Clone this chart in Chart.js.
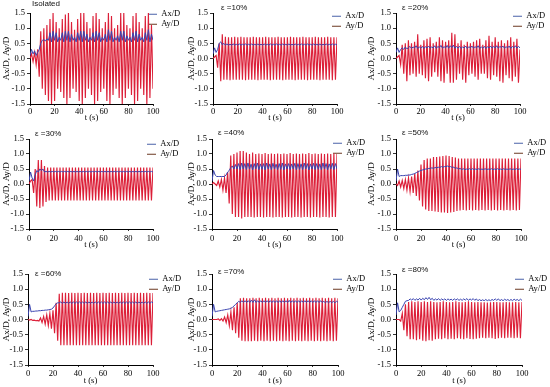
<!DOCTYPE html>
<html><head><meta charset="utf-8">
<script src="https://cdn.jsdelivr.net/npm/chart.js@4/dist/chart.umd.min.js"></script>
<style>
body{margin:0;width:550px;height:387px;background:#fff;position:relative;overflow:hidden}
canvas{position:absolute}
</style></head><body>
<script>
// time samples (s)
const t = [0,1.25,2.5,3.75,5,6.25,7.5,8.75,
10,11.25,12.5,13.75,15,16.25,17.5,18.75,
20,21.25,22.5,23.75,25,26.25,27.5,28.75,
30,31.25,32.5,33.75,35,36.25,37.5,38.75,
40,41.25,42.5,43.75,45,46.25,47.5,48.75,
50,51.25,52.5,53.75,55,56.25,57.5,58.75,
60,61.25,62.5,63.75,65,66.25,67.5,68.75,
70,71.25,72.5,73.75,75,76.25,77.5,78.75,
80,81.25,82.5,83.75,85,86.25,87.5,88.75,
90,91.25,92.5,93.75,95,96.25,97.5,98.75,
100];
const xTicks = [0,20,40,60,80,100];
const yTicks = [-1.5,-1.0,-0.5,0.0,0.5,1.0,1.5];
const seriesNames = ['Ax/D','Ay/D'];
const panelTitles = ['Isolated','ε =10%','ε =20%','ε =30%','ε =40%','ε =50%','ε =60%','ε =70%','ε =80%'];

// Isolated
const isoAx = [0.1,0.3,0.15,0.25,0.1,0.2,0.3,0.5,
0.6,0.62,0.58,0.65,0.6,0.85,0.55,0.9,
0.6,0.85,0.55,0.7,0.6,0.85,0.55,0.9,
0.6,0.9,0.55,0.8,0.6,0.7,0.55,0.85,
0.6,0.9,0.55,0.9,0.6,0.8,0.55,0.7,
0.6,0.85,0.55,0.9,0.6,0.85,0.55,0.7,
0.6,0.8,0.55,0.95,0.6,0.9,0.55,0.7,
0.6,0.75,0.55,0.9,0.6,0.9,0.55,0.75,
0.6,0.7,0.55,0.85,0.6,0.9,0.55,0.8,
0.6,0.7,0.55,0.85,0.6,0.95,0.55,0.8,
0.6];
const isoAy = [0,0.15,-0.1,0.2,-0.2,0.3,-0.6,0.9,
-1.0,1.0,-1.2,1.1,-1.4,1.3,-1.5,1.5,
-1.4,1.2,-1.0,1.0,-1.1,1.3,-1.3,1.45,
-1.5,1.5,-1.3,1.2,-1.0,0.95,-1.1,1.3,
-1.4,1.5,-1.5,1.5,-1.3,1.2,-1.0,1.0,
-1.2,1.4,-1.5,1.5,-1.4,1.3,-1.1,1.0,
-1.0,1.2,-1.4,1.5,-1.5,1.4,-1.2,1.0,
-1.0,1.1,-1.3,1.5,-1.5,1.5,-1.3,1.1,
-1.0,1.0,-1.2,1.4,-1.5,1.5,-1.4,1.2,
-1.0,1.0,-1.2,1.4,-1.5,1.5,-1.3,1.1,
-1.0];
// ε = 10%
const e10Ax = [0.15,0.35,0.2,0.3,0.5,0.55,0.45,0.5,
0.44,0.48,0.44,0.47,0.44,0.48,0.44,0.47,
0.44,0.48,0.44,0.47,0.44,0.48,0.44,0.47,
0.44,0.48,0.44,0.47,0.44,0.48,0.44,0.47,
0.44,0.48,0.44,0.47,0.44,0.48,0.44,0.47,
0.44,0.48,0.44,0.47,0.44,0.48,0.44,0.47,
0.44,0.48,0.44,0.47,0.44,0.48,0.44,0.47,
0.44,0.48,0.44,0.47,0.44,0.48,0.44,0.47,
0.44,0.48,0.44,0.47,0.44,0.48,0.44,0.47,
0.44,0.48,0.44,0.47,0.44,0.48,0.44,0.47,
0.45];
const e10Ay = [0,0.05,0.1,-0.3,0.5,-0.75,0.8,-0.7,
0.72,-0.7,0.7,-0.72,0.7,-0.7,0.72,-0.7,
0.7,-0.7,0.72,-0.7,0.7,-0.72,0.7,-0.7,
0.7,-0.7,0.72,-0.7,0.7,-0.72,0.7,-0.7,
0.7,-0.7,0.72,-0.7,0.7,-0.72,0.7,-0.7,
0.7,-0.7,0.72,-0.7,0.7,-0.72,0.7,-0.7,
0.7,-0.7,0.72,-0.7,0.7,-0.72,0.7,-0.7,
0.7,-0.7,0.72,-0.7,0.7,-0.72,0.7,-0.7,
0.7,-0.7,0.72,-0.7,0.7,-0.72,0.7,-0.7,
0.7,-0.7,0.72,-0.7,0.7,-0.72,0.7,-0.7,
0.7];
// ε = 20%
const e20Ax = [0.2,0.35,0.2,0.3,0.35,0.3,0.38,0.32,
0.35,0.4,0.33,0.38,0.35,0.42,0.33,0.38,
0.34,0.4,0.33,0.39,0.35,0.41,0.34,0.38,
0.35,0.42,0.33,0.4,0.36,0.43,0.34,0.39,
0.35,0.43,0.34,0.42,0.36,0.44,0.34,0.4,
0.34,0.4,0.33,0.38,0.35,0.41,0.33,0.39,
0.35,0.41,0.34,0.39,0.35,0.42,0.33,0.38,
0.34,0.4,0.33,0.39,0.35,0.41,0.34,0.4,
0.35,0.42,0.34,0.4,0.36,0.41,0.34,0.39,
0.35,0.41,0.33,0.4,0.35,0.42,0.34,0.4,
0.35];
const e20Ay = [0,0.05,0.1,-0.2,0.45,-0.5,0.5,-0.75,
0.6,-0.55,0.5,-0.5,0.55,-0.6,0.8,-0.5,
0.45,-0.55,0.6,-0.65,0.65,-0.75,0.7,-0.6,
0.5,-0.45,0.55,-0.6,0.7,-0.75,0.6,-0.8,
0.55,-0.5,0.6,-0.8,0.85,-0.8,0.8,-0.7,
0.5,-0.5,0.6,-0.7,0.45,-0.8,0.55,-0.55,
0.5,-0.5,0.55,-0.6,0.6,-0.7,0.65,-0.5,
0.45,-0.5,0.6,-0.65,0.75,-0.7,0.55,-0.55,
0.7,-0.6,0.55,-0.75,0.6,-0.8,0.5,-0.55,
0.6,-0.65,0.7,-0.75,0.55,-0.6,0.65,-0.8,
0.3];
// ε = 30%
const e30Ax = [0.1,0.4,0.2,0.1,0.3,0.45,0.4,0.5,
0.45,0.5,0.4,0.42,0.4,0.42,0.4,0.42,
0.4,0.42,0.4,0.42,0.4,0.42,0.4,0.42,
0.4,0.42,0.4,0.42,0.4,0.42,0.4,0.42,
0.4,0.42,0.4,0.42,0.4,0.42,0.4,0.42,
0.4,0.42,0.4,0.42,0.4,0.42,0.4,0.42,
0.4,0.42,0.4,0.42,0.4,0.42,0.4,0.42,
0.4,0.42,0.4,0.42,0.4,0.42,0.4,0.42,
0.4,0.42,0.4,0.42,0.4,0.42,0.4,0.42,
0.4,0.42,0.4,0.42,0.4,0.42,0.4,0.42,
0.4];
const e30Ay = [0,0.1,0.15,-0.3,0.5,-0.75,0.8,-0.8,
0.8,-0.75,0.6,-0.6,0.55,-0.55,0.55,-0.55,
0.55,-0.55,0.55,-0.55,0.55,-0.55,0.55,-0.55,
0.55,-0.55,0.55,-0.55,0.55,-0.55,0.55,-0.55,
0.55,-0.55,0.55,-0.55,0.55,-0.55,0.55,-0.55,
0.55,-0.55,0.55,-0.55,0.55,-0.55,0.55,-0.55,
0.55,-0.55,0.55,-0.55,0.55,-0.55,0.55,-0.55,
0.55,-0.55,0.55,-0.55,0.55,-0.55,0.55,-0.55,
0.55,-0.55,0.55,-0.55,0.55,-0.55,0.55,-0.55,
0.55,-0.55,0.55,-0.55,0.55,-0.55,0.55,-0.55,
0.55];
// ε = 40%
const e40Ax = [0.1,0.45,0.3,0.25,0.25,0.25,0.25,0.25,
0.25,0.3,0.4,0.45,0.55,0.6,0.5,0.65,
0.5,0.68,0.48,0.7,0.5,0.68,0.48,0.7,
0.5,0.66,0.47,0.68,0.5,0.7,0.48,0.67,
0.49,0.68,0.47,0.7,0.5,0.67,0.48,0.69,
0.5,0.66,0.48,0.68,0.49,0.7,0.47,0.67,
0.5,0.68,0.48,0.67,0.5,0.69,0.47,0.68,
0.49,0.67,0.48,0.7,0.5,0.68,0.47,0.67,
0.5,0.69,0.48,0.68,0.49,0.67,0.48,0.7,
0.5,0.68,0.47,0.67,0.5,0.69,0.48,0.68,
0.5];
const e40Ay = [0,0.05,0,-0.05,0.1,-0.1,0.15,-0.2,
0.2,-0.3,0.4,-0.65,0.95,-1.0,1.0,-1.1,
1.05,-1.1,1.1,-1.15,1.1,-1.1,1.05,-1.1,
1.0,-1.1,1.05,-1.12,1.0,-1.1,1.02,-1.1,
1.0,-1.12,1.03,-1.1,1.0,-1.1,1.02,-1.12,
1.0,-1.1,1.02,-1.1,1.0,-1.12,1.02,-1.1,
1.0,-1.1,1.03,-1.12,1.0,-1.1,1.02,-1.1,
1.0,-1.12,1.02,-1.1,1.0,-1.1,1.03,-1.12,
1.0,-1.1,1.02,-1.1,1.0,-1.12,1.02,-1.1,
1.0,-1.1,1.02,-1.12,1.0,-1.1,1.02,-1.1,
1.0];
// ε = 50%
const e50Ax = [0.1,0.5,0.25,0.28,0.28,0.28,0.29,0.29,
0.3,0.3,0.32,0.33,0.35,0.38,0.4,0.43,
0.45,0.47,0.48,0.5,0.5,0.52,0.52,0.54,
0.52,0.55,0.54,0.56,0.55,0.58,0.56,0.58,
0.58,0.6,0.57,0.58,0.55,0.56,0.52,0.54,
0.5,0.52,0.48,0.51,0.48,0.5,0.48,0.51,
0.48,0.51,0.48,0.5,0.48,0.51,0.48,0.5,
0.48,0.51,0.48,0.5,0.48,0.51,0.48,0.5,
0.48,0.51,0.48,0.5,0.48,0.51,0.48,0.5,
0.48,0.51,0.48,0.5,0.48,0.51,0.48,0.5,
0.49];
const e50Ay = [0,-0.05,0.1,-0.1,0.12,-0.15,0.15,-0.2,
0.2,-0.25,0.25,-0.3,0.35,-0.4,0.45,-0.55,
0.65,-0.75,0.8,-0.85,0.85,-0.9,0.85,-0.9,
0.9,-0.92,0.9,-0.93,0.92,-0.95,0.93,-0.95,
0.95,-0.97,0.93,-0.95,0.9,-0.93,0.88,-0.9,
0.85,-0.88,0.85,-0.87,0.85,-0.88,0.85,-0.87,
0.85,-0.88,0.85,-0.87,0.85,-0.88,0.85,-0.87,
0.85,-0.88,0.85,-0.87,0.85,-0.88,0.85,-0.87,
0.85,-0.88,0.85,-0.87,0.85,-0.88,0.85,-0.87,
0.85,-0.88,0.85,-0.87,0.85,-0.88,0.85,-0.87,
0.85];
// ε = 60%
const e60Ax = [0.1,0.5,0.25,0.27,0.27,0.28,0.28,0.29,
0.29,0.3,0.3,0.31,0.31,0.32,0.33,0.34,
0.38,0.45,0.52,0.55,0.55,0.58,0.53,0.58,
0.53,0.58,0.53,0.58,0.53,0.58,0.53,0.58,
0.53,0.58,0.53,0.58,0.53,0.58,0.53,0.58,
0.53,0.58,0.53,0.58,0.53,0.58,0.53,0.58,
0.53,0.58,0.53,0.58,0.53,0.58,0.53,0.58,
0.53,0.58,0.53,0.58,0.53,0.58,0.53,0.58,
0.53,0.58,0.53,0.58,0.53,0.58,0.53,0.58,
0.53,0.58,0.53,0.58,0.53,0.58,0.53,0.58,
0.55];
const e60Ay = [0,-0.02,0,-0.03,-0.02,-0.04,-0.03,-0.05,
0.05,-0.1,0.1,-0.15,0.15,-0.2,0.2,-0.3,
0.3,-0.45,0.55,-0.7,0.85,-0.85,0.88,-0.85,
0.88,-0.85,0.87,-0.85,0.88,-0.85,0.87,-0.85,
0.88,-0.85,0.87,-0.85,0.88,-0.85,0.87,-0.85,
0.88,-0.85,0.87,-0.85,0.88,-0.85,0.87,-0.85,
0.88,-0.85,0.87,-0.85,0.88,-0.85,0.87,-0.85,
0.88,-0.85,0.87,-0.85,0.88,-0.85,0.87,-0.85,
0.88,-0.85,0.87,-0.85,0.88,-0.85,0.87,-0.85,
0.88,-0.85,0.87,-0.85,0.88,-0.85,0.87,-0.85,
0.87];
// ε = 70%
const e70Ax = [0.1,0.5,0.25,0.27,0.28,0.29,0.3,0.31,
0.32,0.33,0.34,0.35,0.37,0.4,0.45,0.5,
0.55,0.6,0.56,0.62,0.56,0.62,0.56,0.62,
0.56,0.64,0.56,0.65,0.56,0.62,0.56,0.62,
0.56,0.62,0.56,0.62,0.56,0.62,0.56,0.62,
0.56,0.62,0.56,0.62,0.56,0.62,0.56,0.62,
0.56,0.63,0.56,0.62,0.56,0.62,0.56,0.62,
0.56,0.62,0.56,0.62,0.56,0.62,0.56,0.62,
0.56,0.62,0.56,0.62,0.56,0.62,0.56,0.6,
0.55,0.6,0.55,0.6,0.55,0.6,0.55,0.6,
0.57];
const e70Ay = [0,0,0,0,0.02,-0.03,0.03,-0.05,
0.08,-0.1,0.15,-0.2,0.25,-0.35,0.4,-0.45,
0.55,-0.6,0.7,-0.7,0.72,-0.72,0.7,-0.72,
0.7,-0.72,0.72,-0.7,0.7,-0.72,0.72,-0.7,
0.7,-0.72,0.72,-0.7,0.7,-0.72,0.72,-0.7,
0.7,-0.72,0.72,-0.7,0.7,-0.72,0.72,-0.7,
0.7,-0.72,0.72,-0.7,0.7,-0.72,0.72,-0.7,
0.7,-0.72,0.72,-0.7,0.7,-0.72,0.72,-0.7,
0.7,-0.72,0.72,-0.7,0.7,-0.72,0.72,-0.7,
0.7,-0.72,0.72,-0.7,0.7,-0.72,0.72,-0.7,
0.7];
// ε = 80%
const e80Ax = [0.15,0.55,0.25,0.3,0.4,0.5,0.6,0.62,
0.63,0.68,0.64,0.69,0.63,0.68,0.64,0.7,
0.64,0.7,0.65,0.72,0.66,0.73,0.65,0.7,
0.63,0.68,0.64,0.69,0.63,0.68,0.64,0.68,
0.63,0.68,0.64,0.67,0.63,0.68,0.64,0.68,
0.63,0.67,0.63,0.68,0.64,0.69,0.63,0.68,
0.64,0.69,0.63,0.68,0.62,0.66,0.62,0.65,
0.62,0.66,0.62,0.65,0.62,0.66,0.63,0.68,
0.63,0.68,0.62,0.66,0.62,0.67,0.63,0.66,
0.62,0.66,0.62,0.67,0.63,0.66,0.62,0.67,
0.63];
const e80Ay = [0,0,0,-0.05,0.2,-0.35,0.5,-0.55,
0.58,-0.65,0.6,-0.65,0.58,-0.68,0.6,-0.65,
0.58,-0.7,0.6,-0.72,0.58,-0.68,0.6,-0.7,
0.58,-0.65,0.57,-0.63,0.58,-0.65,0.6,-0.62,
0.58,-0.65,0.57,-0.63,0.58,-0.65,0.6,-0.62,
0.58,-0.63,0.57,-0.65,0.58,-0.62,0.6,-0.64,
0.58,-0.65,0.57,-0.63,0.58,-0.62,0.57,-0.6,
0.57,-0.62,0.56,-0.6,0.57,-0.62,0.58,-0.64,
0.58,-0.62,0.57,-0.6,0.57,-0.62,0.58,-0.6,
0.57,-0.6,0.57,-0.62,0.58,-0.6,0.57,-0.62,
0.58];

const axSeries = [isoAx,e10Ax,e20Ax,e30Ax,e40Ax,e50Ax,e60Ax,e70Ax,e80Ax];
const aySeries = [isoAy,e10Ay,e20Ay,e30Ay,e40Ay,e50Ay,e60Ay,e70Ay,e80Ay];

// ---------- layout / styling ----------
const AX_COLOR = '#3a44b0';
const AY_COLOR = '#dc1f38';
const LEG_COLORS = ['#4a62a8','#6b3822'];
const SERIF = "'Liberation Serif','Times New Roman',serif";
const SANS = "'Liberation Sans',Arial,sans-serif";

const cols = [{x:0,w:185},{x:185,w:180},{x:365,w:185}];
const rows = [
  {y:0,h:127,T:13,B:104,tickPad:1,titlePad:3.9},
  {y:127,h:127,T:139,B:229,tickPad:3,titlePad:3.9},
  {y:254,h:133,T:274,B:365,tickPad:2,titlePad:0.9}
];
// plot left / right edges per panel
const plotLR = [[30,153],[213,337],[396,520],[29,153],[212,337],[396,521],[28,153],[212,338],[396,522]];
// title offset (relative to plot top-left), legend offset
const titleOff = [[2,-9],[8,-5],[6,-5],[6,-5],[6,-6],[6,-6],[7,0],[6,-2],[6,-4]];
const legOff = [[-6.5,-4.5],[-6.5,-2.5],[-8.5,-2.5],[-7.5,-0.5],[-5.5,-1.5],[-8.5,-1.5],[-5.5,-0.5],[-6.5,-0.5],[-8.5,-0.5]];

Chart.defaults.color = '#000';

const panelDeco = {
  id: 'panelDeco',
  afterLayout(chart, args, opts) {
    const lg = chart.legend;
    if (lg) { lg.left += opts.dx; lg.top += opts.dy; lg.bottom += opts.dy; lg.right = lg.left + 60; }
  },
  afterDraw(chart, args, opts) {
    const ctx = chart.ctx, a = chart.chartArea;
    ctx.save();
    ctx.font = '8px ' + SANS;
    ctx.fillStyle = '#111';
    ctx.textBaseline = 'middle';
    ctx.textAlign = 'left';
    ctx.fillText(opts.title, a.left + opts.tx, a.top + opts.ty);
    ctx.restore();
  }
};

for (let i = 0; i < 9; i++) {
  const c = cols[i % 3], r = rows[Math.floor(i / 3)];
  const [L, R] = plotLR[i];
  const cv = document.createElement('canvas');
  cv.width = c.w; cv.height = r.h;
  cv.style.left = c.x + 'px'; cv.style.top = r.y + 'px';
  cv.style.width = c.w + 'px'; cv.style.height = r.h + 'px';
  document.body.appendChild(cv);
  const yW = L - c.x, xH = r.y + r.h - r.B, legW = c.x + c.w - R;
  new Chart(cv, {
    type: 'line',
    data: {
      labels: t,
      datasets: [
        {label: seriesNames[0], data: axSeries[i], borderColor: AX_COLOR, backgroundColor: AX_COLOR, borderWidth: 1, pointRadius: 0, tension: 0},
        {label: seriesNames[1], data: aySeries[i], borderColor: AY_COLOR, backgroundColor: AY_COLOR, borderWidth: 1.15, pointRadius: 0, tension: 0}
      ]
    },
    options: {
      responsive: false, animation: false, devicePixelRatio: 1,
      layout: {padding: {top: r.T - r.y, left: 0, right: 0, bottom: 0}},
      scales: {
        x: {
          type: 'linear', min: 0, max: 100,
          afterFit: s => { s.height = xH; },
          afterBuildTicks: s => { s.ticks = xTicks.map(v => ({value: v})); },
          ticks: {font: {family: SERIF, size: 8.5}, color: '#000', padding: r.tickPad, maxRotation: 0, callback: v => String(v)},
          grid: {display: true, drawOnChartArea: false, drawTicks: true, tickLength: 2, color: '#000', lineWidth: 0.8},
          border: {display: true, color: '#000', width: 1},
          title: {display: true, text: 't (s)', font: {family: SERIF, size: 8.5}, color: '#000', padding: {top: 0, bottom: r.titlePad}}
        },
        y: {
          min: -1.5, max: 1.5,
          afterFit: s => { s.width = yW; },
          afterBuildTicks: s => { s.ticks = yTicks.map(v => ({value: v})); },
          ticks: {font: {family: SERIF, size: 8.5}, color: '#000', padding: 2, callback: v => Number(v).toFixed(1)},
          grid: {display: true, drawOnChartArea: false, drawTicks: true, tickLength: 3, color: '#000', lineWidth: 0.8},
          border: {display: true, color: '#000', width: 1},
          title: {display: true, text: 'Ax/D, Ay/D', font: {family: SERIF, size: 9}, color: '#000', padding: {top: 1.6, bottom: 0}}
        }
      },
      plugins: {
        tooltip: {enabled: false},
        legend: {
          display: true, position: 'right', align: 'start', maxWidth: legW,
          labels: {
            boxWidth: 9, boxHeight: 1, padding: 1.5, color: '#000',
            font: {family: SERIF, size: 8.5},
            generateLabels: chart => Chart.defaults.plugins.legend.labels.generateLabels(chart).map((l, k) => Object.assign(l, {fillStyle: LEG_COLORS[k], strokeStyle: LEG_COLORS[k], lineWidth: 0}))
          }
        },
        panelDeco: {title: panelTitles[i], tx: titleOff[i][0], ty: titleOff[i][1], dx: legOff[i][0], dy: legOff[i][1]}
      }
    },
    plugins: [panelDeco]
  });
}
</script>
</body></html>
